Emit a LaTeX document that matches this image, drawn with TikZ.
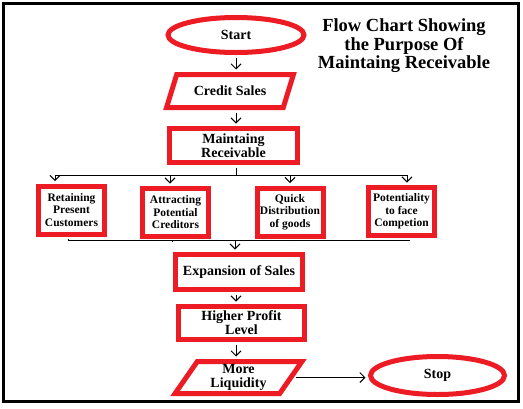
\documentclass[tikz,border=0pt]{standalone}
\usepackage{fontspec}
\setmainfont{Liberation Serif}
\usetikzlibrary{arrows.meta}
\usetikzlibrary{shapes.geometric}
\definecolor{myred}{RGB}{237, 28, 36}

\begin{document}
\begin{tikzpicture}[x=1pt,y=-1pt,
  redbox/.style={draw=myred,line width=5pt,fill=white,inner sep=0pt,align=center,
    font=\bfseries\fontsize{14}{14}\selectfont},
  oval/.style={redbox,ellipse},
  slanted/.style={redbox,trapezium,trapezium stretches=true},
  smallbox/.style={redbox,minimum width=66pt,minimum height=48pt,
    font=\bfseries\fontsize{11.5}{12.5}\selectfont},
  line/.style={line width=1pt},
  arr/.style={line,-{Straight Barb[length=5pt,width=10pt]},shorten >=2.5pt}]
  \useasboundingbox (0,0) rectangle (523,408);
  \fill[white] (0,0) rectangle (523,408);

  %Frame
  \draw[line width=3.3pt] (3.3,3.3) rectangle (518.5,401.7);

  %Title
  \node[align=center,font=\bfseries\fontsize{18.5}{18.5}\selectfont] (title) at (404,46)
    {Flow Chart Showing\\the Purpose Of\\Maintaing Receivable};

  %Main column
  \node[oval,minimum width=136pt,minimum height=35pt] (start) at (236,35) {Start};
  \node[slanted,trapezium left angle=55,trapezium right angle=125,
    minimum width=128pt,minimum height=33pt] (credit) at (230,91) {Credit Sales};
  \node[redbox,minimum width=128pt,minimum height=34pt] (maint) at (233.5,145.5) {Maintaing\\Receivable};
  \node[redbox,minimum width=127pt,minimum height=35pt] (expand) at (239,272) {Expansion of Sales};
  \node[redbox,minimum width=126pt,minimum height=33pt] (higher) at (241.5,323) {Higher Profit\\Level};
  \node[slanted,trapezium left angle=60,trapezium right angle=120,
    minimum width=128pt,minimum height=32pt] (liq) at (238.5,377.5) {More\\Liquidity};
  \node[oval,minimum width=134pt,minimum height=38pt] (stop) at (437.5,375.5) {Stop};

  %Purposes
  \node[smallbox] (retain) at (71.5,210) {Retaining\\Present\\Customers};
  \node[smallbox] (attract) at (175.5,212.5) {Attracting\\Potential\\Creditors};
  \node[smallbox] (quick) at (290,212) {Quick\\Distribution\\of goods};
  \node[smallbox] (potential) at (401.5,211.5) {Potentiality\\to face\\Competion};

  %Connectors
  \coordinate (split) at (236,175);
  \draw[arr,shorten <=2.5pt] (start.south) -- (start.south |- credit.north);
  \draw[arr,shorten <=2.5pt] (split |- credit.south) -- (split |- maint.north);
  \draw[line,shorten <=2.5pt] (split |- maint.south) -- (split);
  \foreach \x/\b in {55/retain,170/attract,290/quick,407/potential}
  {
    \coordinate (top\b) at (\x,175);
    \draw[arr] (top\b) -- (top\b |- \b.north);
  }
  \draw[line] (topretain) -- (toppotential);

  \foreach \x/\b in {68/retain,172/attract,291/quick,409/potential}
  {
    \coordinate (bot\b) at (\x,240);
    \draw[line,shorten <=2.5pt] (bot\b |- \b.south) -- (bot\b);
  }
  \draw[line] (botretain) -- (botpotential);
  \coordinate (join) at (235,240);
  \draw[arr] (join) -- (join |- expand.north);
  \draw[arr,shorten <=2.5pt] (split |- expand.south) -- (split |- higher.north);
  \draw[arr,shorten <=2.5pt] (split |- higher.south) -- (split |- liq.north);
  \draw[arr,shorten <=2pt] (liq.east) -- (liq.east -| stop.west);

\end{tikzpicture}
\end{document}
